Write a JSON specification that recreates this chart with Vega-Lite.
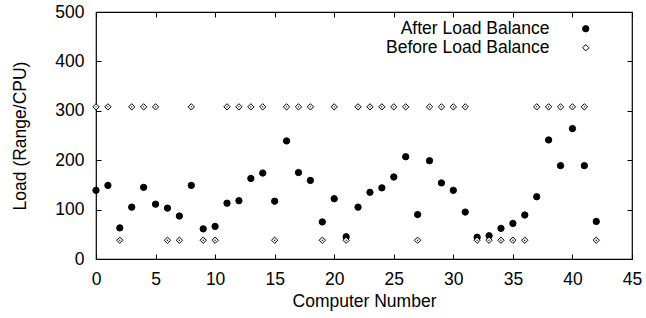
{
  "$schema": "https://vega.github.io/schema/vega-lite/v6.json",
  "autosize": "none",
  "width": 536,
  "height": 247,
  "padding": {"left": 96, "top": 12, "right": 14, "bottom": 59},
  "background": "white",
  "config": {
    "font": "Liberation Sans",
    "view": {"stroke": "black", "strokeWidth": 1.2},
    "axis": {
      "domain": false,
      "grid": false,
      "ticks": true,
      "tickSize": -5,
      "tickColor": "black",
      "tickWidth": 1,
      "labelFont": "Liberation Sans",
      "labelFontSize": 17.5,
      "labelColor": "black",
      "titleFont": "Liberation Sans",
      "titleFontSize": 17.5,
      "titleFontWeight": "normal",
      "titleColor": "black"
    },
    "legend": {
      "labelFont": "Liberation Sans",
      "labelFontSize": 17.5,
      "labelColor": "black",
      "labelLimit": 400
    }
  },
  "data": {
    "values": [
      {"computer": 0, "series": "After Load Balance", "load": 139},
      {"computer": 1, "series": "After Load Balance", "load": 149},
      {"computer": 2, "series": "After Load Balance", "load": 63},
      {"computer": 3, "series": "After Load Balance", "load": 105},
      {"computer": 4, "series": "After Load Balance", "load": 145},
      {"computer": 5, "series": "After Load Balance", "load": 111},
      {"computer": 6, "series": "After Load Balance", "load": 103},
      {"computer": 7, "series": "After Load Balance", "load": 87},
      {"computer": 8, "series": "After Load Balance", "load": 149},
      {"computer": 9, "series": "After Load Balance", "load": 61},
      {"computer": 10, "series": "After Load Balance", "load": 66},
      {"computer": 11, "series": "After Load Balance", "load": 113},
      {"computer": 12, "series": "After Load Balance", "load": 118},
      {"computer": 13, "series": "After Load Balance", "load": 163},
      {"computer": 14, "series": "After Load Balance", "load": 174},
      {"computer": 15, "series": "After Load Balance", "load": 117},
      {"computer": 16, "series": "After Load Balance", "load": 239},
      {"computer": 17, "series": "After Load Balance", "load": 175},
      {"computer": 18, "series": "After Load Balance", "load": 159},
      {"computer": 19, "series": "After Load Balance", "load": 75},
      {"computer": 20, "series": "After Load Balance", "load": 122},
      {"computer": 21, "series": "After Load Balance", "load": 45},
      {"computer": 22, "series": "After Load Balance", "load": 105},
      {"computer": 23, "series": "After Load Balance", "load": 135},
      {"computer": 24, "series": "After Load Balance", "load": 144},
      {"computer": 25, "series": "After Load Balance", "load": 166},
      {"computer": 26, "series": "After Load Balance", "load": 207},
      {"computer": 27, "series": "After Load Balance", "load": 90},
      {"computer": 28, "series": "After Load Balance", "load": 199},
      {"computer": 29, "series": "After Load Balance", "load": 154},
      {"computer": 30, "series": "After Load Balance", "load": 139},
      {"computer": 31, "series": "After Load Balance", "load": 95},
      {"computer": 32, "series": "After Load Balance", "load": 44},
      {"computer": 33, "series": "After Load Balance", "load": 47},
      {"computer": 34, "series": "After Load Balance", "load": 62},
      {"computer": 35, "series": "After Load Balance", "load": 72},
      {"computer": 36, "series": "After Load Balance", "load": 89},
      {"computer": 37, "series": "After Load Balance", "load": 126},
      {"computer": 38, "series": "After Load Balance", "load": 241},
      {"computer": 39, "series": "After Load Balance", "load": 189},
      {"computer": 40, "series": "After Load Balance", "load": 264},
      {"computer": 41, "series": "After Load Balance", "load": 189},
      {"computer": 42, "series": "After Load Balance", "load": 76},
      {"computer": 0, "series": "Before Load Balance", "load": 308},
      {"computer": 1, "series": "Before Load Balance", "load": 308},
      {"computer": 2, "series": "Before Load Balance", "load": 38},
      {"computer": 3, "series": "Before Load Balance", "load": 308},
      {"computer": 4, "series": "Before Load Balance", "load": 308},
      {"computer": 5, "series": "Before Load Balance", "load": 308},
      {"computer": 6, "series": "Before Load Balance", "load": 38},
      {"computer": 7, "series": "Before Load Balance", "load": 38},
      {"computer": 8, "series": "Before Load Balance", "load": 308},
      {"computer": 9, "series": "Before Load Balance", "load": 38},
      {"computer": 10, "series": "Before Load Balance", "load": 38},
      {"computer": 11, "series": "Before Load Balance", "load": 308},
      {"computer": 12, "series": "Before Load Balance", "load": 308},
      {"computer": 13, "series": "Before Load Balance", "load": 308},
      {"computer": 14, "series": "Before Load Balance", "load": 308},
      {"computer": 15, "series": "Before Load Balance", "load": 38},
      {"computer": 16, "series": "Before Load Balance", "load": 308},
      {"computer": 17, "series": "Before Load Balance", "load": 308},
      {"computer": 18, "series": "Before Load Balance", "load": 308},
      {"computer": 19, "series": "Before Load Balance", "load": 38},
      {"computer": 20, "series": "Before Load Balance", "load": 308},
      {"computer": 21, "series": "Before Load Balance", "load": 38},
      {"computer": 22, "series": "Before Load Balance", "load": 308},
      {"computer": 23, "series": "Before Load Balance", "load": 308},
      {"computer": 24, "series": "Before Load Balance", "load": 308},
      {"computer": 25, "series": "Before Load Balance", "load": 308},
      {"computer": 26, "series": "Before Load Balance", "load": 308},
      {"computer": 27, "series": "Before Load Balance", "load": 38},
      {"computer": 28, "series": "Before Load Balance", "load": 308},
      {"computer": 29, "series": "Before Load Balance", "load": 308},
      {"computer": 30, "series": "Before Load Balance", "load": 308},
      {"computer": 31, "series": "Before Load Balance", "load": 308},
      {"computer": 32, "series": "Before Load Balance", "load": 38},
      {"computer": 33, "series": "Before Load Balance", "load": 38},
      {"computer": 34, "series": "Before Load Balance", "load": 38},
      {"computer": 35, "series": "Before Load Balance", "load": 38},
      {"computer": 36, "series": "Before Load Balance", "load": 38},
      {"computer": 37, "series": "Before Load Balance", "load": 308},
      {"computer": 38, "series": "Before Load Balance", "load": 308},
      {"computer": 39, "series": "Before Load Balance", "load": 308},
      {"computer": 40, "series": "Before Load Balance", "load": 308},
      {"computer": 41, "series": "Before Load Balance", "load": 308},
      {"computer": 42, "series": "Before Load Balance", "load": 38}
    ]
  },
  "layer": [
    {
      "mark": {"type": "point", "strokeWidth": 1, "opacity": 1, "fillOpacity": 1, "size": 40},
      "encoding": {
        "x": {
          "field": "computer", "type": "quantitative",
          "scale": {"domain": [0, 45], "nice": false, "zero": false},
          "axis": {"values": [0, 5, 10, 15, 20, 25, 30, 35, 40, 45], "title": "Computer Number", "labelPadding": 16, "titlePadding": 5, "labelFlush": false}
        },
        "y": {
          "field": "load", "type": "quantitative",
          "scale": {"domain": [0, 500], "nice": false},
          "axis": {"values": [0, 100, 200, 300, 400, 500], "title": "Load (Range/CPU)", "labelPadding": 17, "titlePadding": 25, "labelFlush": false}
        },
        "shape": {
          "field": "series", "type": "nominal",
          "scale": {"domain": ["After Load Balance", "Before Load Balance"], "range": ["circle", "diamond"]},
          "legend": {
            "title": null, "orient": "none", "legendX": 481, "legendY": 8,
            "rowPadding": 0, "labelAlign": "right", "labelOffset": -45, "labelLimit": 400,
            "symbolStrokeWidth": 1, "symbolSize": 40
          }
        },
        "fill": {
          "field": "series", "type": "nominal",
          "scale": {"domain": ["After Load Balance", "Before Load Balance"], "range": ["black", "white"]},
          "legend": {
            "title": null, "orient": "none", "legendX": 481, "legendY": 8,
            "rowPadding": 0, "labelAlign": "right", "labelOffset": -45, "labelLimit": 400,
            "symbolStrokeWidth": 1, "symbolSize": 40
          }
        },
        "stroke": {
          "field": "series", "type": "nominal",
          "scale": {"domain": ["After Load Balance", "Before Load Balance"], "range": ["black", "black"]},
          "legend": {
            "title": null, "orient": "none", "legendX": 481, "legendY": 8,
            "rowPadding": 0, "labelAlign": "right", "labelOffset": -45, "labelLimit": 400,
            "symbolStrokeWidth": 1, "symbolSize": 40
          }
        }
      }
    },
    {
      "mark": {"type": "point", "opacity": 0},
      "encoding": {
        "x": {
          "field": "computer", "type": "quantitative",
          "axis": {"orient": "top", "values": [0, 5, 10, 15, 20, 25, 30, 35, 40, 45], "labels": false, "title": null}
        },
        "y": {
          "field": "load", "type": "quantitative",
          "axis": {"orient": "right", "values": [0, 100, 200, 300, 400, 500], "labels": false, "title": null}
        }
      }
    },
    {
      "transform": [{"filter": "datum.series === 'Before Load Balance'"}],
      "mark": {"type": "point", "shape": "circle", "filled": true, "color": "black", "size": 2, "opacity": 1},
      "encoding": {
        "x": {"field": "computer", "type": "quantitative", "axis": null},
        "y": {"field": "load", "type": "quantitative", "axis": null}
      }
    }
  ],
  "resolve": {"axis": {"x": "independent", "y": "independent"}}
}
